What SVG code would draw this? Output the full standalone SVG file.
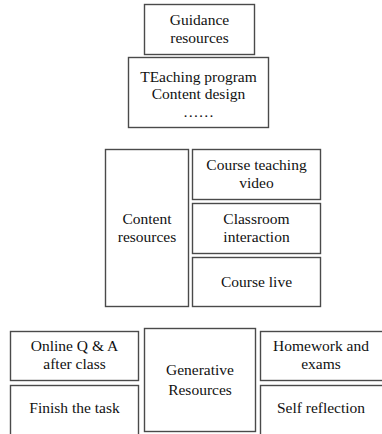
<svg xmlns="http://www.w3.org/2000/svg" width="382" height="434" viewBox="0 0 382 434">
<style>
rect{fill:#fff;stroke:#4a4a4a;stroke-width:1.4}
text{font-family:"Liberation Serif","Times New Roman",serif;font-size:15.5px;fill:#111;text-anchor:middle}
</style>
<rect x="0" y="0" width="382" height="434" style="stroke:none"/>
<g id="guidance"><rect x="144.5" y="4.5" width="110" height="50"/><text x="199.5" y="25">Guidance</text><text x="199.5" y="43">resources</text></g>
<g id="teaching"><rect x="128.5" y="57.5" width="140" height="70"/><text x="198.5" y="82">TEaching program</text><text x="198.5" y="99">Content design</text><text x="198.5" y="117">……</text></g>
<g id="content"><rect x="105.5" y="149.5" width="83" height="157"/><text x="147" y="224">Content</text><text x="147" y="242">resources</text></g>
<g id="video"><rect x="192.5" y="149.5" width="128" height="50"/><text x="256.5" y="170">Course teaching</text><text x="256.5" y="188">video</text></g>
<g id="interaction"><rect x="192.5" y="203.5" width="128" height="50"/><text x="256.5" y="224">Classroom</text><text x="256.5" y="242">interaction</text></g>
<g id="live"><rect x="192.5" y="257.5" width="128" height="49"/><text x="256.5" y="287">Course live</text></g>
<g id="online"><rect x="10.5" y="331.5" width="128" height="49"/><text x="74.5" y="351">Online Q &amp; A</text><text x="74.5" y="369">after class</text></g>
<g id="finish"><rect x="10.5" y="385.5" width="128" height="60"/><text x="74.5" y="413">Finish the task</text></g>
<g id="generative"><rect x="144.5" y="328.5" width="111" height="103"/><text x="200" y="375">Generative</text><text x="200" y="395">Resources</text></g>
<g id="homework"><rect x="260.5" y="331.5" width="124" height="49"/><text x="321" y="351">Homework and</text><text x="321" y="369">exams</text></g>
<g id="reflection"><rect x="260.5" y="385.5" width="124" height="60"/><text x="321" y="413">Self reflection</text></g>
<g id="connectors"></g>
</svg>
